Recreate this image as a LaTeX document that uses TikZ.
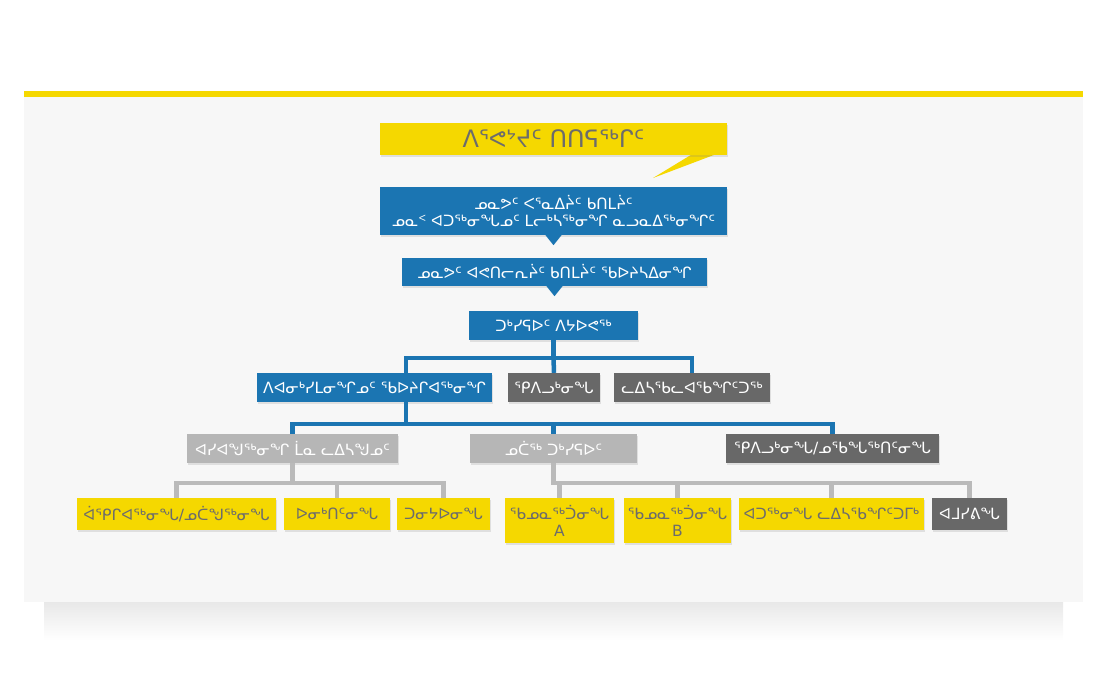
\documentclass[tikz,border=0pt]{standalone}
\usepackage{fontspec}
\newfontfamily\syl{DejaVu Sans}
\usetikzlibrary{shadows}
\definecolor{nblue}{RGB}{27,117,178}
\definecolor{nyellow}{RGB}{245,216,0}
\definecolor{ndark}{RGB}{104,104,104}
\definecolor{nlight}{RGB}{182,182,182}
\definecolor{nline}{RGB}{186,186,186}
\definecolor{ntext}{RGB}{108,108,108}
\definecolor{ncard}{RGB}{247,247,247}

\begin{document}
\begin{tikzpicture}[x=1pt,y=-1pt,
  box/.style={rectangle, inner sep=0pt, align=center,
    font=\syl\fontsize{15.5}{17}\selectfont,
    drop shadow={opacity=.2, shadow xshift=1pt, shadow yshift=-1.5pt}},
  bluebox/.style={box, fill=nblue, text=white},
  ybox/.style={box, fill=nyellow, text=ntext},
  dbox/.style={box, fill=ndark, text=white},
  lbox/.style={box, fill=nlight, text=white},
  bline/.style={draw=nblue, line width=4.5pt},
  gline/.style={draw=nline, line width=4.5pt}]
  \useasboundingbox (0,0) rectangle (1101,675);

  % podloga
  \shade[top color=black!9, bottom color=white] (44,602) rectangle (1063,640);
  \fill[ncard] (24,96) rectangle (1083,602);
  \fill[nyellow] (24,91) rectangle (1083,97);

  % naslov
  \fill[nyellow] (699,150) -- (727,150) -- (653,178) -- cycle;
  \node[ybox, minimum width=347pt, minimum height=32pt,
    font=\syl\fontsize{24}{28}\selectfont] (title) at (553.5,139) {ᐱᕐᕙᔾᔪᑦ ᑎᑎᕋᖅᒋᑦ};

  % plave kutije
  \node[bluebox, minimum width=347pt, minimum height=48pt] (plan) at (553.5,211)
    {ᓄᓇᕗᑦ ᐸᕐᓇᐃᔩᑦ ᑲᑎᒪᔩᑦ\\ᓄᓇᑉ ᐊᑐᖅᓂᖓᓄᑦ ᒪᓕᒃᓴᖅᓂᖏ ᓇᓗᓇᐃᖅᓂᖏᑦ};
  \fill[nblue] ([xshift=-8pt]plan.south) -- ([xshift=8pt]plan.south) -- ([yshift=-10pt]plan.south) -- cycle;
  \node[bluebox, minimum width=305pt, minimum height=28pt] (board) at (554.5,272)
    {ᓄᓇᕗᑦ ᐊᕙᑎᓕᕆᔩᑦ ᑲᑎᒪᔩᑦ ᖃᐅᔨᓴᐃᓂᖏ};
  \fill[nblue] ([xshift=-8pt]board.south) -- ([xshift=8pt]board.south) -- ([yshift=-10pt]board.south) -- cycle;
  \node[bluebox, minimum width=169pt, minimum height=29pt] (req) at (553.5,325.5)
    {ᑐᒃᓯᕋᐅᑦ ᐱᔭᐅᕙᖅ};

  % drugi red
  \node[bluebox, minimum width=235pt, minimum height=29pt] (done) at (374.5,387.5)
    {ᐱᐊᓂᒃᓯᒪᓂᖏᓄᑦ ᖃᐅᔨᒋᐊᖅᓂᖏ};
  \node[dbox, minimum width=92pt, minimum height=29pt] (fix) at (554,387.5)
    {ᕿᐱᓗᒃᓂᖓ};
  \node[dbox, minimum width=156pt, minimum height=29pt] (free) at (692,387.5)
    {ᓚᐃᓴᖃᓚᐊᖃᖏᑦᑐᖅ};

  % treci red
  \node[lbox, minimum width=211pt, minimum height=29pt] (chg) at (292.5,448.5)
    {ᐊᓯᐊᖑᖅᓂᖏ ᒫᓇ ᓚᐃᓴᖑᓄᑦ};
  \node[lbox, minimum width=167pt, minimum height=29pt] (new) at (553.5,448.5)
    {ᓄᑖᖅ ᑐᒃᓯᕋᐅᑦ};
  \node[dbox, minimum width=213pt, minimum height=29pt] (stop) at (832.5,448.5)
    {ᕿᐱᓗᒃᓂᖓ/ᓄᖃᖓᖅᑎᑦᓂᖓ};

  % cetvrti red
  \node[ybox, minimum width=199pt, minimum height=32pt] (renew) at (176.5,514)
    {ᐋᕿᒋᐊᖅᓂᖓ/ᓄᑖᖑᖅᓂᖓ};
  \node[ybox, minimum width=106pt, minimum height=32pt] (notify) at (337,514)
    {ᐅᓂᒃᑎᑦᓂᖓ};
  \node[ybox, minimum width=93pt, minimum height=32pt] (give) at (443.5,514)
    {ᑐᓂᔭᐅᓂᖓ};
  \node[ybox, minimum width=109pt, minimum height=45pt] (typa) at (559.5,520.5)
    {ᖃᓄᓇᖅᑑᓂᖓ\\A};
  \node[ybox, minimum width=107pt, minimum height=45pt] (typb) at (677.5,520.5)
    {ᖃᓄᓇᖅᑑᓂᖓ\\B};
  \node[ybox, minimum width=185pt, minimum height=32pt] (use) at (831.5,514)
    {ᐊᑐᖅᓂᖓ ᓚᐃᓴᖃᖏᑦᑐᒥᒃ};
  \node[dbox, minimum width=75pt, minimum height=32pt] (pen) at (969.5,514)
    {ᐊᒧᓯᕕᖓ};

  % veze
  \coordinate (j1) at (553.5,358);
  \coordinate (j2) at (406,424);
  \coordinate (j3) at (292.5,483);
  \coordinate (j4) at (553.5,483);
  \draw[bline] (req.south) -- (j1);
  \draw[bline] ([xshift=31.5pt]done.north) |- (j1) -| (free.north);
  \draw[bline] (j1) -- (fix.north);
  \draw[bline] ([xshift=31.5pt]done.south) -- (j2);
  \draw[bline] (chg.north) |- (j2) -| (stop.north);
  \draw[bline] (new.north) -- (new.north |- j2);
  \draw[gline] (chg.south) -- (j3);
  \draw[gline] (renew.north) |- (j3) -| (give.north);
  \draw[gline] (notify.north) -- (notify.north |- j3);
  \draw[gline] (new.south) |- (j4) -| (pen.north);
  \draw[gline] (typa.north) -- (typa.north |- j4);
  \draw[gline] (typb.north) -- (typb.north |- j4);
  \draw[gline] (use.north) -- (use.north |- j4);
\end{tikzpicture}
\end{document}
